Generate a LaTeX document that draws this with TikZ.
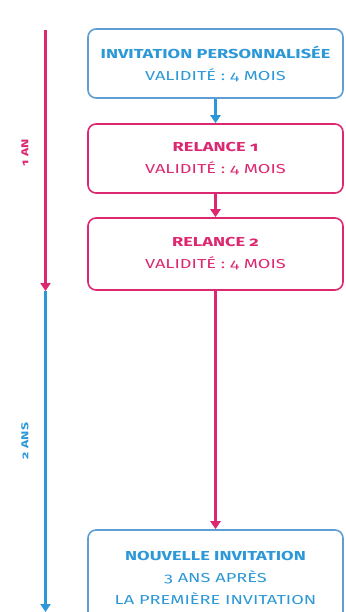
\documentclass[tikz,border=0pt]{standalone}
\usepackage{fontspec}
\setmainfont{Fira Sans}[Numbers=OldStyle, FakeStretch=1.4]
\usetikzlibrary{arrows.meta,positioning}
\definecolor{rose}{RGB}{220,40,112}
\definecolor{bleu}{RGB}{45,152,215}
\definecolor{bleubord}{RGB}{95,158,212}

\tikzset{
    etape/.style={draw, rounded corners=8pt, line width=1.6pt, minimum width=255pt,
        align=center, inner sep=0pt, font=\fontsize{13}{22}\selectfont},
    fleche/.style={line width=2.6pt, -{Triangle[width=10pt,length=8pt]}},
    frise/.style={line width=3pt, -{Triangle[width=10pt,length=8pt]}},
    duree/.style={rotate=90, font=\bfseries\fontsize{10}{12}\selectfont}
}

\begin{document}
\begin{tikzpicture}[x=1pt, y=-1pt]
                        \clip (0, 0) rectangle (345, 612);
                        % frise du temps
                        \coordinate (debut) at (45.5, 30);
                        \coordinate (milieu) at (45.5, 291);
                        \coordinate (fin) at (45.5, 612);
                        \draw[frise, rose] (debut) -- (milieu);
                        \draw[frise, bleu] (milieu) -- (fin);
                        \node[duree, text=rose] (un) at (25, 153) {1 AN};
                        \node[duree, text=bleu] (deux) at (25, 441) {2 ANS};
                        % etapes
                        \node[etape, bleubord, minimum height=69pt] (invit) at (215.5, 63.5)
                            {\textcolor{bleu}{\bfseries INVITATION PERSONNALISÉE}\\\textcolor{bleu}{VALIDITÉ : 4 MOIS}};
                        \node[etape, rose, minimum height=69pt] (rel1) at (215.5, 158.5)
                            {\bfseries RELANCE 1\\VALIDITÉ : 4 MOIS};
                        \node[etape, rose, minimum height=72pt] (rel2) at (215.5, 254)
                            {\bfseries RELANCE 2\\VALIDITÉ : 4 MOIS};
                        \node[etape, bleubord, minimum height=96pt] (nouv) at (215.5, 578)
                            {\textcolor{bleu}{\bfseries NOUVELLE INVITATION}\\\textcolor{bleu}{3 ANS APRÈS}\\\textcolor{bleu}{LA PREMIÈRE INVITATION}};
                        \draw[fleche, bleu] (invit) -- (rel1);
                        \draw[fleche, rose] (rel1) -- (rel2);
                        \draw[fleche, rose] (rel2) -- (nouv);
                    \end{tikzpicture}
\end{document}
